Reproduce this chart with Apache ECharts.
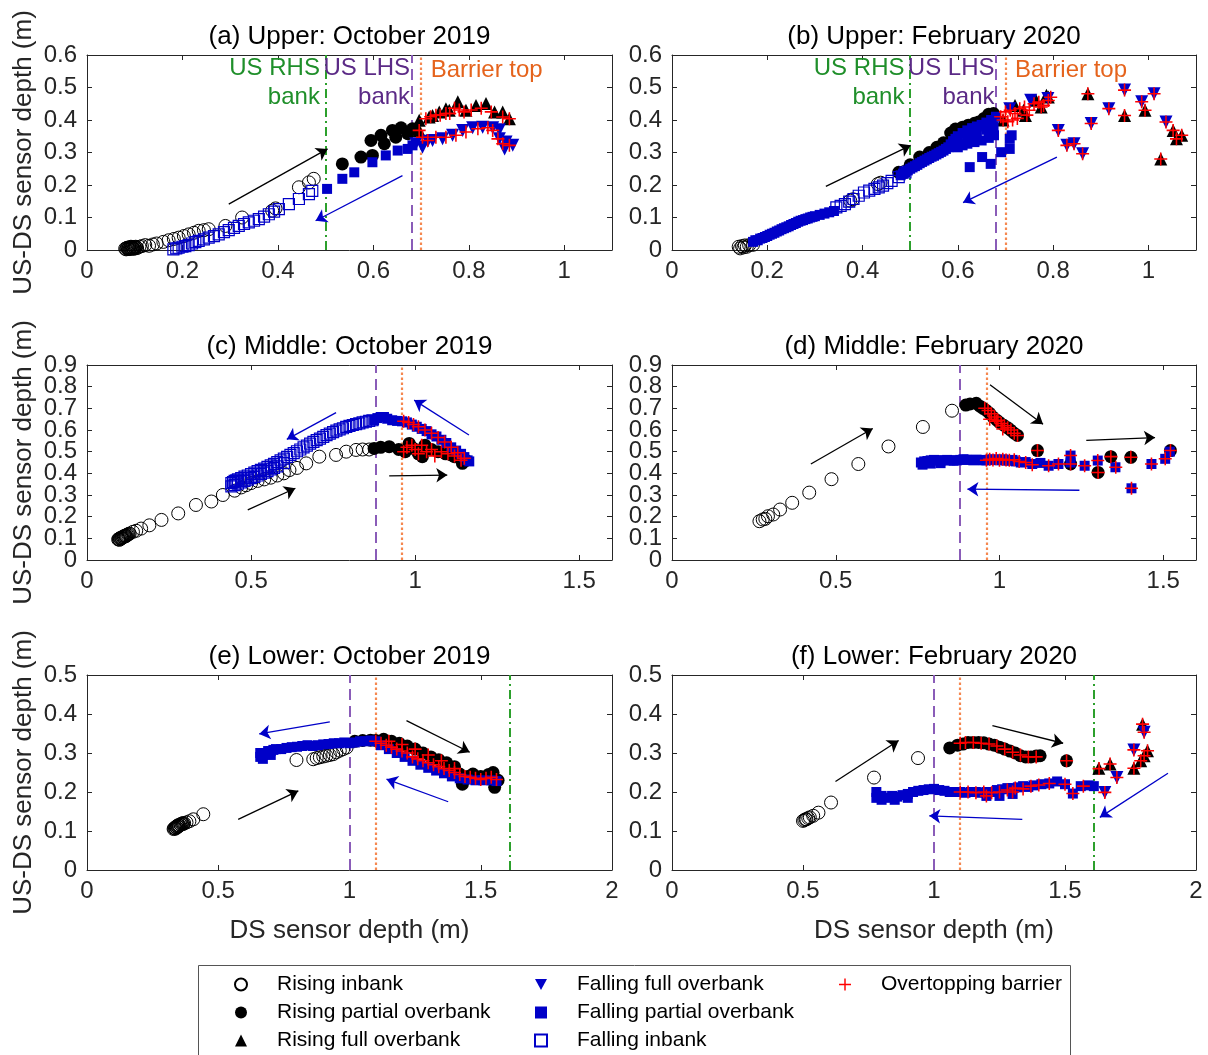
<!DOCTYPE html>
<html>
<head>
<meta charset="utf-8">
<script src="https://cdn.jsdelivr.net/npm/echarts@6/dist/echarts.min.js"></script>
<style>html,body{margin:0;padding:0;background:#fff;}#chart{width:1208px;height:1055px;}</style>
</head>
<body>
<div id="chart"></div>
<script>
// ---------------- DATA ----------------
const titles = ['(a) Upper: October 2019','(b) Upper: February 2020','(c) Middle: October 2019','(d) Middle: February 2020','(e) Lower: October 2019','(f) Lower: February 2020'];
const xMaxes = [1.1, 1.1, 1.6, 1.6, 2, 2];
const xIntervals = [0.2, 0.2, 0.5, 0.5, 0.5, 0.5];
const yMaxes = [0.6, 0.6, 0.9, 0.9, 0.5, 0.5];
// reference lines (x positions): US RHS bank, US LHS bank, barrier top
const rhsBank = [0.5, 0.5, null, null, 1.615, 1.615];
const lhsBank = [0.68, 0.68, 0.88, 0.88, 1.0, 1.0];
const barrierTop = [0.70, 0.70, 0.96, 0.96, 1.1, 1.1];

// (a) Upper: October 2019
const a_riseIn = [[0.08,0.004],[0.082,0.002],[0.083,0.006],[0.085,0.007],[0.086,0.003],[0.087,0.005],[0.088,0.008],[0.089,0.003],[0.09,0.005],[0.091,0.007],[0.092,0.01],[0.093,0.004],[0.094,0.009],[0.095,0.006],[0.096,0.008],[0.097,0.005],[0.098,0.004],[0.099,0.009],[0.1,0.008],[0.101,0.005],[0.102,0.01],[0.103,0.008],[0.105,0.006],[0.11,0.01],[0.115,0.012],[0.122,0.015],[0.13,0.013],[0.138,0.017],[0.146,0.02],[0.16,0.025],[0.171,0.03],[0.182,0.034],[0.192,0.038],[0.203,0.043],[0.213,0.048],[0.224,0.053],[0.234,0.059],[0.245,0.061],[0.255,0.064],[0.29,0.074],[0.325,0.1],[0.388,0.121],[0.395,0.128],[0.444,0.193],[0.465,0.208],[0.475,0.219]];
const a_risePart = [[0.535,0.265],[0.574,0.286],[0.598,0.291],[0.595,0.337],[0.616,0.353],[0.623,0.327],[0.64,0.368],[0.647,0.347],[0.658,0.376],[0.672,0.358],[0.682,0.373]];
const a_riseFull = [[0.696,0.368],[0.696,0.399],[0.717,0.409],[0.724,0.414],[0.738,0.425],[0.752,0.435],[0.759,0.43],[0.777,0.456],[0.794,0.43],[0.815,0.445],[0.836,0.451],[0.854,0.425],[0.871,0.425],[0.885,0.404]];
const a_fallFull = [[0.689,0.327],[0.703,0.316],[0.714,0.335],[0.724,0.337],[0.745,0.342],[0.766,0.353],[0.787,0.368],[0.808,0.376],[0.829,0.378],[0.85,0.376],[0.864,0.37],[0.864,0.342],[0.875,0.311],[0.878,0.332],[0.892,0.322]];
const a_fallPart = [[0.503,0.188],[0.535,0.219],[0.56,0.239],[0.598,0.27],[0.626,0.291],[0.651,0.306],[0.672,0.311],[0.682,0.322]];
const a_fallIn = [[0.181,0.002],[0.187,0.005],[0.192,0.007],[0.2,0.01],[0.206,0.012],[0.213,0.015],[0.22,0.02],[0.227,0.024],[0.234,0.028],[0.245,0.033],[0.255,0.038],[0.266,0.043],[0.276,0.048],[0.287,0.055],[0.297,0.061],[0.308,0.068],[0.318,0.074],[0.329,0.08],[0.339,0.085],[0.35,0.09],[0.36,0.095],[0.371,0.103],[0.381,0.11],[0.392,0.118],[0.402,0.126],[0.423,0.141],[0.444,0.157],[0.465,0.172],[0.472,0.182]];
const a_over = [[0.71,0.404],[0.72,0.41],[0.731,0.415],[0.74,0.415],[0.752,0.42],[0.76,0.42],[0.77,0.436],[0.78,0.431],[0.79,0.425],[0.805,0.431],[0.826,0.436],[0.847,0.425],[0.871,0.409],[0.885,0.404],[0.696,0.368],[0.703,0.347],[0.714,0.337],[0.731,0.347],[0.752,0.347],[0.773,0.353],[0.794,0.363],[0.819,0.373],[0.84,0.376],[0.85,0.368],[0.861,0.342],[0.871,0.327],[0.885,0.322]];
const a_arrowsK = [[[0.297,0.141],[0.504,0.311]]];
const a_arrowsB = [[[0.661,0.229],[0.479,0.09]]];

// (b) Upper: February 2020
const b_riseIn = [[0.14,0.01],[0.143,0.005],[0.147,0.012],[0.15,0.008],[0.153,0.014],[0.157,0.01],[0.162,0.015],[0.17,0.016],[0.374,0.152],[0.38,0.156],[0.432,0.203],[0.438,0.207],[0.488,0.24]];
const b_risePart = [[0.476,0.239],[0.5,0.262],[0.52,0.286],[0.54,0.3],[0.556,0.316],[0.57,0.33],[0.585,0.36],[0.595,0.372],[0.61,0.378],[0.622,0.384],[0.635,0.39],[0.644,0.394],[0.655,0.405],[0.665,0.418],[0.675,0.42]];
const b_riseFull = [[0.695,0.4],[0.72,0.445],[0.738,0.43],[0.742,0.414],[0.764,0.461],[0.775,0.44],[0.786,0.476],[0.79,0.471],[0.873,0.481],[0.95,0.414],[0.993,0.43],[1.026,0.28],[1.052,0.368],[1.059,0.342],[1.07,0.353]];
const b_fallFull = [[0.709,0.435],[0.753,0.461],[0.789,0.466],[0.811,0.368],[0.829,0.322],[0.844,0.327],[0.862,0.296],[0.88,0.389],[0.917,0.435],[0.95,0.492],[0.986,0.456],[1.012,0.481],[1.037,0.394]];
const b_fallPart = [[0.17,0.025],[0.175,0.03],[0.18,0.03],[0.185,0.035],[0.19,0.037],[0.195,0.04],[0.2,0.043],[0.205,0.047],[0.21,0.05],[0.215,0.053],[0.22,0.057],[0.225,0.06],[0.23,0.064],[0.235,0.067],[0.24,0.07],[0.245,0.073],[0.25,0.077],[0.255,0.08],[0.26,0.083],[0.265,0.087],[0.27,0.09],[0.275,0.092],[0.28,0.095],[0.285,0.097],[0.29,0.1],[0.295,0.102],[0.3,0.104],[0.31,0.108],[0.32,0.112],[0.33,0.116],[0.34,0.12],
 [0.48,0.23],[0.485,0.235],[0.49,0.24],[0.495,0.245],[0.5,0.25],[0.505,0.254],[0.51,0.258],[0.515,0.262],[0.52,0.267],[0.525,0.271],[0.53,0.275],[0.535,0.279],[0.54,0.283],[0.545,0.287],[0.55,0.29],[0.555,0.294],[0.56,0.298],[0.565,0.302],[0.57,0.306],[0.575,0.311],[0.58,0.316],[0.585,0.325],[0.59,0.335],[0.595,0.342],[0.6,0.35],[0.61,0.36],[0.62,0.368],[0.63,0.375],[0.64,0.38],[0.65,0.385],[0.66,0.392],[0.67,0.4],[0.68,0.41],
 [0.6,0.316],[0.61,0.322],[0.62,0.327],[0.635,0.332],[0.65,0.337],[0.665,0.345],[0.676,0.353],[0.6,0.333],[0.62,0.347],[0.64,0.358],[0.66,0.37],[0.675,0.38],
 [0.625,0.255],[0.651,0.286],[0.669,0.265],[0.691,0.301],[0.709,0.311],[0.709,0.342],[0.713,0.353]];
const b_fallIn = [[0.345,0.131],[0.354,0.136],[0.363,0.141],[0.372,0.149],[0.381,0.157],[0.392,0.167],[0.403,0.177],[0.414,0.183],[0.425,0.188],[0.434,0.193],[0.443,0.198],[0.452,0.206],[0.461,0.213],[0.476,0.224],[0.49,0.239]];
const b_over = [[0.69,0.41],[0.695,0.4],[0.7,0.425],[0.705,0.395],[0.71,0.43],[0.715,0.4],[0.72,0.42],[0.725,0.405],[0.73,0.435],[0.74,0.44],[0.745,0.415],[0.75,0.43],[0.76,0.45],[0.77,0.455],[0.775,0.44],[0.78,0.445],[0.79,0.46],[0.795,0.47],
 [0.811,0.368],[0.829,0.322],[0.844,0.327],[0.862,0.296],[0.873,0.481],[0.88,0.389],[0.917,0.435],[0.95,0.492],[0.95,0.414],[0.986,0.456],[0.993,0.43],[1.012,0.481],[1.026,0.28],[1.037,0.394],[1.052,0.368],[1.059,0.342],[1.07,0.353]];
const b_arrowsK = [[[0.323,0.196],[0.501,0.322]]];
const b_arrowsB = [[[0.808,0.286],[0.611,0.146]]];

// (c) Middle: October 2019
const c_riseIn = [[0.095,0.095],[0.097,0.097],[0.099,0.093],[0.1,0.1],[0.102,0.098],[0.104,0.103],[0.105,0.1],[0.107,0.102],[0.108,0.106],[0.11,0.105],[0.112,0.107],[0.113,0.11],[0.115,0.11],[0.117,0.113],[0.118,0.11],[0.12,0.112],[0.122,0.116],[0.125,0.118],[0.127,0.12],[0.13,0.122],[0.14,0.13],[0.15,0.135],[0.165,0.145],[0.19,0.16],[0.227,0.185],[0.278,0.215],[0.332,0.254],[0.379,0.27],[0.414,0.3],[0.45,0.32],[0.47,0.335],[0.485,0.345],[0.5,0.355],[0.52,0.365],[0.54,0.372],[0.56,0.38],[0.58,0.39],[0.6,0.4],[0.617,0.415],[0.64,0.425],[0.668,0.446],[0.708,0.477],[0.759,0.485],[0.79,0.5],[0.82,0.508],[0.84,0.51],[0.86,0.51]];
const c_risePart = [[0.875,0.515],[0.895,0.52],[0.921,0.523],[0.95,0.51],[0.97,0.5],[0.982,0.538],[0.99,0.52],[1.0,0.51],[1.01,0.49],[1.022,0.477],[1.03,0.53],[1.05,0.51],[1.07,0.5],[1.093,0.49],[1.11,0.485],[1.12,0.477],[1.144,0.446],[1.155,0.46]];
const c_fallPart = [[0.875,0.645],[0.885,0.655],[0.895,0.66],[0.905,0.66],[0.915,0.652],[0.93,0.645],[0.945,0.642],[0.96,0.64],[0.975,0.635],[0.99,0.625],[1.005,0.615],[1.02,0.605],[1.035,0.595],[1.05,0.58],[1.065,0.57],[1.08,0.555],[1.095,0.54],[1.11,0.52],[1.125,0.505],[1.14,0.49],[1.15,0.475],[1.16,0.46],[1.165,0.455]];
const c_fallIn = [[0.44,0.355],[0.445,0.36],[0.45,0.365],[0.455,0.368],[0.46,0.372],[0.47,0.378],[0.48,0.385],[0.49,0.39],[0.5,0.397],[0.51,0.403],[0.52,0.41],[0.53,0.416],[0.54,0.422],[0.55,0.43],[0.56,0.437],[0.57,0.444],[0.58,0.452],[0.59,0.46],[0.6,0.468],[0.61,0.476],[0.62,0.485],[0.63,0.493],[0.64,0.502],[0.65,0.51],[0.66,0.52],[0.67,0.528],[0.68,0.537],[0.69,0.545],[0.7,0.553],[0.71,0.56],[0.72,0.568],[0.73,0.576],[0.74,0.583],[0.75,0.59],[0.76,0.597],[0.77,0.603],[0.78,0.608],[0.79,0.614],[0.8,0.619],[0.81,0.623],[0.82,0.627],[0.83,0.631],[0.84,0.635],[0.85,0.638],[0.86,0.642],[0.87,0.645],
 [0.44,0.34],[0.45,0.346],[0.46,0.352],[0.47,0.358],[0.48,0.365],[0.49,0.371],[0.5,0.378],[0.51,0.384],[0.52,0.39],[0.53,0.397],[0.54,0.403],[0.55,0.41],[0.56,0.418],[0.57,0.425],[0.58,0.432],[0.6,0.447]];
const c_over = [[0.965,0.64],[0.98,0.635],[0.995,0.625],[1.01,0.615],[1.03,0.6],[1.05,0.585],[1.07,0.565],[1.09,0.545],[1.11,0.52],[1.13,0.495],[1.15,0.47],
 [0.965,0.5],[0.975,0.52],[0.99,0.53],[1.0,0.51],[1.01,0.49],[1.02,0.53],[1.035,0.5],[1.05,0.51],[1.06,0.48],[1.08,0.5],[1.1,0.49],[1.12,0.48],[1.14,0.46]];
const c_arrowsK = [[[0.49,0.231],[0.635,0.331]],[[0.921,0.388],[1.098,0.392]]];
const c_arrowsB = [[[0.759,0.68],[0.609,0.557]],[[1.164,0.577],[0.997,0.738]]];

// (d) Middle: February 2020
const d_riseIn = [[0.267,0.179],[0.277,0.187],[0.285,0.19],[0.293,0.202],[0.309,0.21],[0.33,0.233],[0.367,0.264],[0.419,0.311],[0.487,0.373],[0.569,0.443],[0.661,0.524],[0.766,0.614],[0.855,0.689]];
const d_risePart = [[0.897,0.715],[0.91,0.72],[0.929,0.723],[0.94,0.71],[0.95,0.7],[0.96,0.69],[0.97,0.677],[0.98,0.66],[0.992,0.645],[1.0,0.635],[1.013,0.622],[1.025,0.61],[1.034,0.599],[1.045,0.585],[1.055,0.575],[1.116,0.505],[1.217,0.443],[1.301,0.404],[1.34,0.477],[1.401,0.474],[1.522,0.505]];
const d_fallPart = [[0.76,0.45],[0.77,0.455],[0.78,0.457],[0.79,0.46],[0.8,0.462],[0.81,0.46],[0.82,0.458],[0.83,0.46],[0.84,0.462],[0.85,0.46],[0.86,0.458],[0.87,0.46],[0.88,0.462],[0.89,0.465],[0.9,0.463],[0.91,0.462],[0.92,0.46],[0.93,0.463],[0.94,0.462],[0.95,0.46],[0.96,0.46],[0.97,0.463],[0.98,0.465],[0.99,0.462],[1.0,0.46],[1.01,0.465],[1.02,0.46],[1.03,0.458],[1.04,0.462],[1.05,0.455],[1.065,0.45],[1.08,0.452],[1.1,0.443],[1.125,0.448],[1.15,0.435],[1.18,0.443],[1.217,0.482],[1.217,0.45],[1.26,0.435],[1.3,0.459],[1.354,0.428],[1.403,0.331],[1.464,0.443],[1.506,0.467],[1.52,0.5],
 [0.765,0.44],[0.79,0.445],[0.82,0.447]];
const d_over = [[0.955,0.7],[0.965,0.69],[0.975,0.675],[0.985,0.66],[0.995,0.645],[1.005,0.63],[1.015,0.62],[1.025,0.61],[1.035,0.6],[1.045,0.585],[1.055,0.575],[0.97,0.65],[0.99,0.64],[1.01,0.605],
 [0.96,0.46],[0.97,0.465],[0.98,0.462],[0.99,0.468],[1.0,0.46],[1.01,0.465],[1.02,0.462],[1.03,0.46],[1.045,0.463],[1.06,0.455],[1.08,0.45],[1.1,0.44],[1.116,0.505],[1.15,0.435],[1.18,0.443],[1.217,0.482],[1.217,0.443],[1.26,0.435],[1.3,0.459],[1.301,0.404],[1.34,0.477],[1.355,0.428],[1.401,0.474],[1.403,0.331],[1.464,0.443],[1.506,0.467],[1.522,0.505]];
const d_arrowsK = [[[0.424,0.443],[0.613,0.607]],[[0.971,0.809],[1.133,0.627]],[[1.265,0.552],[1.475,0.565]]];
const d_arrowsB = [[[1.244,0.322],[0.902,0.327]]];

// (e) Lower: October 2019
const e_riseIn = [[0.33,0.105],[0.332,0.107],[0.335,0.108],[0.337,0.106],[0.338,0.11],[0.34,0.11],[0.342,0.109],[0.343,0.113],[0.345,0.112],[0.347,0.111],[0.348,0.115],[0.35,0.113],[0.352,0.114],[0.355,0.117],[0.357,0.116],[0.36,0.118],[0.362,0.119],[0.365,0.12],[0.367,0.118],[0.37,0.12],[0.379,0.122],[0.39,0.125],[0.405,0.13],[0.443,0.143],[0.798,0.282],[0.862,0.284],[0.875,0.287],[0.887,0.289],[0.9,0.291],[0.912,0.293],[0.925,0.295],[0.938,0.297],[0.95,0.302],[0.963,0.306],[0.976,0.31],[0.989,0.314]];
const e_risePart = [[1.02,0.33],[1.05,0.332],[1.08,0.333],[1.1,0.332],[1.13,0.335],[1.16,0.33],[1.19,0.325],[1.22,0.318],[1.25,0.31],[1.28,0.3],[1.31,0.29],[1.34,0.283],[1.37,0.275],[1.4,0.265],[1.42,0.246],[1.43,0.22],[1.45,0.24],[1.47,0.246],[1.5,0.24],[1.53,0.245],[1.547,0.25],[1.553,0.212],[1.566,0.23]];
const e_fallPart = [[0.66,0.29],[0.66,0.3],[0.67,0.285],[0.67,0.295],[0.68,0.3],[0.69,0.305],[0.7,0.295],[0.7,0.305],[0.71,0.308],[0.72,0.31],[0.74,0.31],[0.76,0.313],[0.78,0.315],[0.8,0.316],[0.82,0.318],[0.84,0.32],[0.86,0.318],[0.88,0.32],[0.9,0.322],[0.92,0.323],[0.94,0.325],[0.96,0.325],[0.98,0.327],[1.0,0.325],[1.02,0.327],[1.04,0.33],[1.06,0.33],[1.08,0.332],[1.1,0.33],[1.12,0.32],[1.15,0.31],[1.18,0.3],[1.21,0.29],[1.24,0.28],[1.27,0.27],[1.3,0.262],[1.33,0.255],[1.36,0.248],[1.39,0.24],[1.42,0.235],[1.45,0.232],[1.48,0.23],[1.51,0.23],[1.54,0.23],[1.56,0.228]];
const e_over = [[1.1,0.33],[1.12,0.325],[1.14,0.32],[1.16,0.315],[1.18,0.31],[1.2,0.305],[1.22,0.3],[1.24,0.29],[1.26,0.285],[1.28,0.28],[1.3,0.275],[1.32,0.27],[1.34,0.265],[1.36,0.26],[1.38,0.255],[1.4,0.25],[1.42,0.245],[1.44,0.24],[1.46,0.238],[1.48,0.235],[1.5,0.232],[1.52,0.235],[1.54,0.238],[1.56,0.232],[1.15,0.33],[1.2,0.322],[1.25,0.31],[1.3,0.295],[1.35,0.28],[1.4,0.26]];
const e_arrowsK = [[[0.576,0.13],[0.805,0.203]],[[1.217,0.383],[1.458,0.302]]];
const e_arrowsB = [[[0.925,0.38],[0.656,0.349]],[[1.376,0.175],[1.141,0.233]]];

// (f) Lower: February 2020
const f_riseIn = [[0.5,0.126],[0.505,0.128],[0.51,0.13],[0.513,0.13],[0.52,0.133],[0.526,0.135],[0.539,0.139],[0.559,0.147],[0.607,0.173],[0.771,0.237],[0.939,0.287]];
const f_risePart = [[1.06,0.313],[1.09,0.32],[1.11,0.323],[1.13,0.327],[1.15,0.327],[1.17,0.327],[1.19,0.326],[1.21,0.323],[1.23,0.32],[1.25,0.315],[1.27,0.31],[1.29,0.305],[1.31,0.3],[1.33,0.293],[1.35,0.29],[1.37,0.29],[1.39,0.292],[1.405,0.293],[1.506,0.28]];
const f_riseFull = [[1.629,0.261],[1.672,0.272],[1.763,0.261],[1.789,0.28],[1.802,0.293],[1.815,0.306],[1.796,0.374]];
const f_fallFull = [[1.652,0.199],[1.698,0.237],[1.763,0.308],[1.802,0.353]];
const f_fallPart = [[0.78,0.185],[0.78,0.2],[0.8,0.19],[0.8,0.18],[0.82,0.185],[0.84,0.19],[0.85,0.18],[0.86,0.188],[0.88,0.192],[0.9,0.195],[0.9,0.185],[0.92,0.2],[0.94,0.203],[0.96,0.205],[0.98,0.207],[1.0,0.208],[1.02,0.205],[1.04,0.203],[1.06,0.2],[1.08,0.2],[1.1,0.2],[1.12,0.198],[1.14,0.2],[1.16,0.2],[1.18,0.198],[1.2,0.2],[1.2,0.19],[1.22,0.2],[1.24,0.205],[1.25,0.19],[1.26,0.207],[1.28,0.21],[1.3,0.21],[1.3,0.195],[1.32,0.212],[1.34,0.215],[1.36,0.213],[1.38,0.217],[1.41,0.22],[1.44,0.222],[1.47,0.227],[1.5,0.22],[1.53,0.196],[1.56,0.215],[1.59,0.217],[1.61,0.215]];
const f_over = [[1.1,0.2],[1.13,0.2],[1.16,0.198],[1.19,0.2],[1.22,0.198],[1.25,0.2],[1.28,0.205],[1.31,0.21],[1.34,0.208],[1.37,0.215],[1.4,0.218],[1.44,0.222],[1.5,0.22],[1.53,0.196],[1.57,0.215],[1.2,0.19],[1.3,0.2],
 [1.1,0.325],[1.12,0.327],[1.15,0.327],[1.18,0.325],[1.21,0.323],[1.24,0.318],[1.27,0.31],[1.3,0.302],[1.33,0.295],[1.36,0.29],[1.39,0.29],[1.506,0.28],
 [1.63,0.26],[1.652,0.199],[1.672,0.272],[1.698,0.237],[1.763,0.308],[1.763,0.261],[1.789,0.28],[1.796,0.374],[1.802,0.353],[1.815,0.306],[1.802,0.293]];
const f_arrowsK = [[[0.624,0.227],[0.865,0.332]],[[1.223,0.37],[1.493,0.325]]];
const f_arrowsB = [[[1.337,0.13],[0.982,0.139]],[[1.893,0.248],[1.633,0.135]]];

// bank text annotations (panels a and b), data coordinates
const bankLabels = [
  {text:'US RHS', at:[0.488,0.56], side:'left', kind:'rhs'},
  {text:'bank', at:[0.488,0.47], side:'left', kind:'rhs'},
  {text:'US LHS', at:[0.677,0.56], side:'left', kind:'lhs'},
  {text:'bank', at:[0.677,0.47], side:'left', kind:'lhs'},
  {text:'Barrier top', at:[0.72,0.553], side:'right', kind:'bar'}
];

const legendCol1 = ['Rising inbank','Rising partial overbank','Rising full overbank'];
const legendCol2 = ['Falling full overbank','Falling partial overbank','Falling inbank'];
const legendCol3 = ['Overtopping barrier'];

const panelData = [
  {riseIn:a_riseIn, risePart:a_risePart, riseFull:a_riseFull, fallFull:a_fallFull, fallPart:a_fallPart, fallIn:a_fallIn, over:a_over, arrK:a_arrowsK, arrB:a_arrowsB},
  {riseIn:b_riseIn, risePart:b_risePart, riseFull:b_riseFull, fallFull:b_fallFull, fallPart:b_fallPart, fallIn:b_fallIn, over:b_over, arrK:b_arrowsK, arrB:b_arrowsB},
  {riseIn:c_riseIn, risePart:c_risePart, riseFull:[], fallFull:[], fallPart:c_fallPart, fallIn:c_fallIn, over:c_over, arrK:c_arrowsK, arrB:c_arrowsB},
  {riseIn:d_riseIn, risePart:d_risePart, riseFull:[], fallFull:[], fallPart:d_fallPart, fallIn:[], over:d_over, arrK:d_arrowsK, arrB:d_arrowsB},
  {riseIn:e_riseIn, risePart:e_risePart, riseFull:[], fallFull:[], fallPart:e_fallPart, fallIn:[], over:e_over, arrK:e_arrowsK, arrB:e_arrowsB},
  {riseIn:f_riseIn, risePart:f_risePart, riseFull:f_riseFull, fallFull:f_fallFull, fallPart:f_fallPart, fallIn:[], over:f_over, arrK:f_arrowsK, arrB:f_arrowsB}
];

// ---------------- STYLE ----------------
const FONT = '"Liberation Sans", Arial, Helvetica, sans-serif';
const AX = '#262626';
const BLUE = '#0000c8';
const RED = '#ff0000';
const GREEN_L = '#2ca02c', GREEN_T = '#1f8f2a';
const PURPLE_L = '#8a5cb8', PURPLE_T = '#5b2a86';
const ORANGE_L = '#f5874f', ORANGE_T = '#e5631c';
const INV_TRI = 'path://M0,0L10,0L5,9Z';
const PLUS = 'path://M4.4,0L5.6,0L5.6,4.4L10,4.4L10,5.6L5.6,5.6L5.6,10L4.4,10L4.4,5.6L0,5.6L0,4.4L4.4,4.4Z';

const SER = [
  {name:'Rising inbank', key:'riseIn', symbol:'circle', size:13, itemStyle:{color:'rgba(255,255,255,0)', borderColor:'#000', borderWidth:1, opacity:1}},
  {name:'Rising partial overbank', key:'risePart', symbol:'circle', size:13, itemStyle:{color:'#000', opacity:1}},
  {name:'Rising full overbank', key:'riseFull', symbol:'triangle', size:13, itemStyle:{color:'#000', opacity:1}},
  {name:'Falling full overbank', key:'fallFull', symbol:INV_TRI, size:13, itemStyle:{color:BLUE, opacity:1}},
  {name:'Falling partial overbank', key:'fallPart', symbol:'rect', size:10, itemStyle:{color:BLUE, opacity:1}},
  {name:'Falling inbank', key:'fallIn', symbol:'rect', size:11, itemStyle:{color:'rgba(255,255,255,0)', borderColor:BLUE, borderWidth:1.2, opacity:1}},
  {name:'Overtopping barrier', key:'over', symbol:PLUS, size:13, itemStyle:{color:RED, opacity:1}}
];

const gridPos = [[87,55],[672,55],[87,365],[672,365],[87,675],[672,675]];
const grids = gridPos.map((p,i)=>({left:p[0], top:p[1], width: (i%2===0?525:524), height:195}));

const xAxes = [], yAxes = [], series = [];
const lineCommon = {show:true, onZero:false, lineStyle:{color:AX, width:1}};
const tickCommon = {show:true, inside:true, length:5, lineStyle:{color:AX, width:1}};
const yLabelStyle = {fontSize:24, color:AX, fontFamily:FONT, margin:10};

for (let i = 0; i < 6; i++) {
  const left = i % 2 === 0;
  xAxes.push({type:'value', gridIndex:i, position:'bottom', min:0, max:xMaxes[i], interval:xIntervals[i],
    axisLine:lineCommon, axisTick:tickCommon, splitLine:{show:false},
    axisLabel:{fontSize:24, color:AX, fontFamily:FONT, margin:9, showMaxLabel: xMaxes[i] === 2, showMinLabel:true},
    name: i >= 4 ? 'DS sensor depth (m)' : '', nameLocation:'middle', nameGap:48,
    nameTextStyle:{fontSize:26, color:AX, fontFamily:FONT}});
  xAxes.push({type:'value', gridIndex:i, position:'top', min:0, max:xMaxes[i], interval:xIntervals[i],
    axisLine:lineCommon, axisTick:tickCommon, splitLine:{show:false}, axisLabel:{show:false},
    name:titles[i], nameLocation:'middle', nameGap:5,
    nameTextStyle:{fontSize:26, color:'#000', fontFamily:FONT}});
  // main left axis: inner tick labels
  yAxes.push({type:'value', gridIndex:i, position:'left', min:0, max:yMaxes[i], interval:0.1,
    axisLine:lineCommon, axisTick:tickCommon, splitLine:{show:false},
    axisLabel:Object.assign({showMinLabel:false, showMaxLabel:false}, yLabelStyle),
    name: left ? 'US-DS sensor depth (m)' : '', nameLocation:'middle', nameGap:50,
    nameTextStyle:{fontSize:26, color:AX, fontFamily:FONT}});
  // mirrored right axis
  yAxes.push({type:'value', gridIndex:i, position:'right', min:0, max:yMaxes[i], interval:0.1,
    axisLine:lineCommon, axisTick:tickCommon, splitLine:{show:false}, axisLabel:{show:false}});
  // end labels (0 and top value) on the left
  yAxes.push({type:'value', gridIndex:i, position:'left', offset:0, min:0, max:yMaxes[i], interval:yMaxes[i],
    axisLine:{show:false}, axisTick:{show:false}, splitLine:{show:false},
    axisLabel:Object.assign({showMinLabel:true, showMaxLabel:true}, yLabelStyle)});

  const pd = panelData[i];
  SER.forEach((s, k) => {
    const ser = {type:'scatter', name:s.name, xAxisIndex:2*i, yAxisIndex:3*i, data:pd[s.key],
      symbol:s.symbol, symbolSize:s.size, itemStyle:s.itemStyle, animation:false, silent:true, z: 2 + k};
    if (k === 0) {
      const ml = [];
      if (rhsBank[i] !== null) ml.push({xAxis:rhsBank[i], lineStyle:{color:GREEN_L, width:2, type:[9,4,2,4]}});
      ml.push({xAxis:lhsBank[i], lineStyle:{color:PURPLE_L, width:2, type:[11,6]}});
      ml.push({xAxis:barrierTop[i], lineStyle:{color:ORANGE_L, width:2.2, type:[2.5,2.5]}});
      ser.markLine = {silent:true, animation:false, symbol:['none','none'], label:{show:false}, emphasis:{disabled:true}, data:ml, z:1};
      if (i < 2) {
        const colorOf = {rhs:GREEN_T, lhs:PURPLE_T, bar:ORANGE_T};
        ser.markPoint = {silent:true, animation:false, symbol:'circle', symbolSize:0,
          itemStyle:{color:'rgba(0,0,0,0)'},
          data: bankLabels.map(b => ({coord:b.at, value:b.text,
            label:{show:true, formatter:b.text, position:b.side, distance:0, color:colorOf[b.kind], fontSize:24, fontFamily:FONT}}))};
      }
    }
    if (k === 1) {
      const arr = [];
      pd.arrK.forEach(a => arr.push([{coord:a[0], lineStyle:{color:'#000', width:1.3, type:'solid'}},{coord:a[1]}]));
      pd.arrB.forEach(a => arr.push([{coord:a[0], lineStyle:{color:BLUE, width:1.3, type:'solid'}},{coord:a[1]}]));
      ser.markLine = {silent:true, animation:false, symbol:['none','arrow'], symbolSize:11, label:{show:false}, emphasis:{disabled:true}, data:arr, z:1};
    }
    series.push(ser);
  });
}

const legendBase = {orient:'vertical', top:974, padding:0, itemWidth:12, itemHeight:12, itemGap:7, selectedMode:false,
  textStyle:{fontSize:21, color:'#000', fontFamily:FONT, lineHeight:21, padding:[0,0,0,25]}};

const option = {
  backgroundColor:'#fff',
  animation:false,
  textStyle:{fontFamily:FONT},
  grid:grids, xAxis:xAxes, yAxis:yAxes, series:series,
  legend:[
    Object.assign({}, legendBase, {left:234, data:legendCol1}),
    Object.assign({}, legendBase, {left:534, data:legendCol2}),
    Object.assign({}, legendBase, {left:839, data:legendCol3})
  ],
  graphic:[{type:'rect', left:198, top:965, shape:{width:872, height:100}, style:{fill:'rgba(0,0,0,0)', stroke:'#555', lineWidth:1}, silent:true, z:-1}]
};

const chart = echarts.init(document.getElementById('chart'), null, {renderer:'canvas'});
chart.setOption(option);
</script>
</body>
</html>
